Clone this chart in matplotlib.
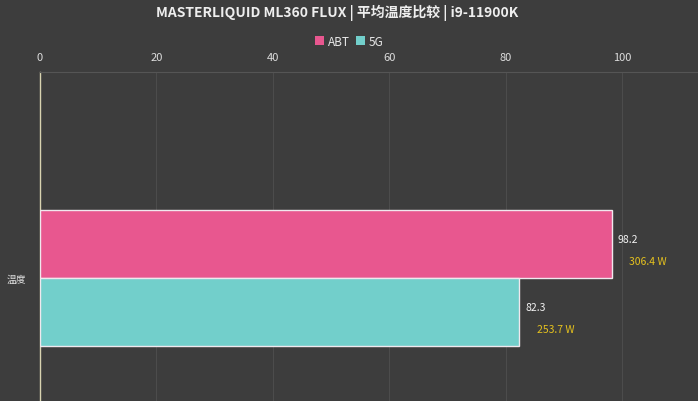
import matplotlib.pyplot as plt
from matplotlib.patches import Patch

plt.rcParams['font.family'] = ['Noto Sans CJK SC', 'DejaVu Sans']

title = "MASTERLIQUID ML360 FLUX | 平均温度比较 | i9-11900K"
category = "温度"
series = ["ABT", "5G"]
temps = [98.2, 82.3]
watts = [306.4, 253.7]
colors = ["#E8578F", "#72CFCB"]
ticks = [0, 20, 40, 60, 80, 100]

bg = "#3d3d3d"
fig = plt.figure(figsize=(6.98, 4.02), dpi=100, facecolor=bg)
ax = fig.add_axes([40 / 698, 0, 1 - 40 / 698, (402 - 73) / 402], facecolor=bg)

h = 0.4
for i, (name, t, w, c) in enumerate(zip(series, temps, watts, colors)):
    y = h / 2 - i * h
    ax.barh(y, t, height=h, color=c, edgecolor="#f0e8ee", linewidth=1.0, zorder=3)
    ax.text(t + 1, y + 0.03, f"{t:.1f}", color="#f2f2f2", fontsize=7.5,
            va="center", ha="left", zorder=4)
    ax.text(t + 3, y - 0.1, f"{w:.1f} W", color="#e6c21e", fontsize=7.5,
            va="center", ha="left", zorder=4)

ax.set_xlim(0, 113)
ax.set_ylim(-0.724, 1.212)
ax.xaxis.tick_top()
ax.set_xticks(ticks)
ax.tick_params(axis="x", length=0, pad=7, labelcolor="#dddddd", labelsize=8)
ax.set_yticks([0])
ax.set_yticklabels([category])
ax.tick_params(axis="y", length=0, pad=10, labelcolor="#e0e0e0", labelsize=7)
ax.grid(axis="x", color="#4c4c4c", linewidth=0.8, zorder=0)

for side in ["right", "bottom"]:
    ax.spines[side].set_visible(False)
ax.spines["top"].set_color("#555555")
ax.spines["top"].set_linewidth(0.8)
ax.spines["left"].set_color("#d8d3b0")
ax.spines["left"].set_linewidth(1.0)

fig.text(0.483, 1 - 13 / 402, title, color="#eeeeee", fontsize=10,
         ha="center", va="center", fontweight="bold")

handles = [Patch(facecolor=c, edgecolor="none") for c in colors]
fig.legend(handles, series, loc="center", bbox_to_anchor=(0.5, 1 - 42 / 402),
           ncol=2, frameon=False, fontsize=8.5, labelcolor="#e8e8e8",
           handlelength=0.8, handleheight=0.8, handletextpad=0.3,
           columnspacing=0.5)

fig.savefig("out.png", dpi=100, facecolor=bg)
